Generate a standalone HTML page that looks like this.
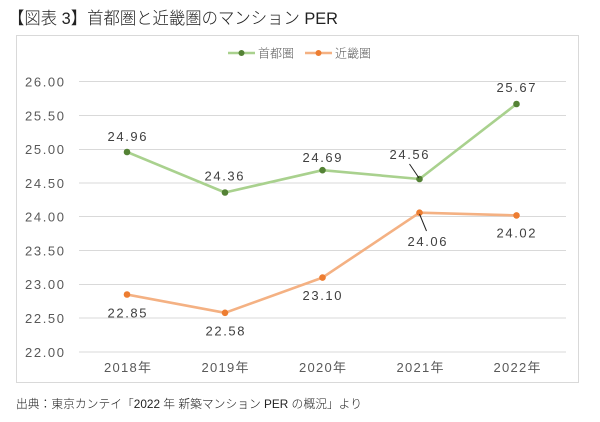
<!DOCTYPE html>
<html><head><meta charset="utf-8"><style>
html,body{margin:0;padding:0;background:#fff;}
svg{display:block;}
</style></head><body>
<svg width="600" height="422" viewBox="0 0 600 422" xmlns="http://www.w3.org/2000/svg">
<rect x="0" y="0" width="600" height="422" fill="#fff"/>
<text x="8" y="24" font-family="'Liberation Sans','Noto Sans CJK JP',sans-serif" font-size="17" font-weight="300" fill="#222" textLength="330" lengthAdjust="spacingAndGlyphs">【図表 3】首都圏と近畿圏のマンション PER</text>
<rect x="16.5" y="35.5" width="562" height="347" fill="#fff" stroke="#d9d9d9" stroke-width="1"/>
<!-- legend -->
<line x1="228" y1="53" x2="255" y2="53" stroke="#a9d18e" stroke-width="2.5"/>
<circle cx="241.5" cy="53" r="3" fill="#548235"/>
<text x="258" y="57.5" font-family="'Liberation Sans','Noto Sans CJK JP',sans-serif" font-size="12" font-weight="300" fill="#595959">首都圏</text>
<line x1="305" y1="53" x2="332" y2="53" stroke="#f4b183" stroke-width="2.5"/>
<circle cx="318.5" cy="53" r="3" fill="#ed7d31"/>
<text x="335" y="57.5" font-family="'Liberation Sans','Noto Sans CJK JP',sans-serif" font-size="12" font-weight="300" fill="#595959">近畿圏</text>
<!-- grid -->
<g stroke="#d9d9d9" stroke-width="1">
<line x1="79" y1="81.5" x2="566" y2="81.5"/>
<line x1="79" y1="115.5" x2="566" y2="115.5"/>
<line x1="79" y1="149.5" x2="566" y2="149.5"/>
<line x1="79" y1="183" x2="566" y2="183"/>
<line x1="79" y1="216.5" x2="566" y2="216.5"/>
<line x1="79" y1="250.5" x2="566" y2="250.5"/>
<line x1="79" y1="284.5" x2="566" y2="284.5"/>
<line x1="79" y1="318" x2="566" y2="318"/>
<line x1="79" y1="352" x2="566" y2="352"/>
</g>
<g font-family="'Liberation Sans',sans-serif" font-size="13" fill="#595959">
<text x="25" y="86.5" textLength="39" lengthAdjust="spacing">26.00</text>
<text x="25" y="120.5" textLength="39" lengthAdjust="spacing">25.50</text>
<text x="25" y="154" textLength="39" lengthAdjust="spacing">25.00</text>
<text x="25" y="188" textLength="39" lengthAdjust="spacing">24.50</text>
<text x="25" y="221.5" textLength="39" lengthAdjust="spacing">24.00</text>
<text x="25" y="255.5" textLength="39" lengthAdjust="spacing">23.50</text>
<text x="25" y="289" textLength="39" lengthAdjust="spacing">23.00</text>
<text x="25" y="323" textLength="39" lengthAdjust="spacing">22.50</text>
<text x="25" y="357" textLength="39" lengthAdjust="spacing">22.00</text>
</g>
<g font-family="'Liberation Sans','Noto Sans CJK JP',sans-serif" font-size="13" fill="#595959">
<text x="104" y="372" textLength="47" lengthAdjust="spacing">2018年</text>
<text x="201.5" y="372" textLength="47" lengthAdjust="spacing">2019年</text>
<text x="299" y="372" textLength="47" lengthAdjust="spacing">2020年</text>
<text x="396.5" y="372" textLength="47" lengthAdjust="spacing">2021年</text>
<text x="493.5" y="372" textLength="47" lengthAdjust="spacing">2022年</text>
</g>
<!-- series -->
<polyline points="127,152 225,192.5 322.5,170.2 419.5,179 516.5,104" fill="none" stroke="#a9d18e" stroke-width="2.6" stroke-linejoin="round"/>
<polyline points="127,294.5 225,312.8 322.5,277.6 419.5,212.7 516.5,215.4" fill="none" stroke="#f4b183" stroke-width="2.6" stroke-linejoin="round"/>
<g fill="#548235">
<circle cx="127" cy="152" r="3.3"/>
<circle cx="225" cy="192.5" r="3.3"/>
<circle cx="322.5" cy="170.2" r="3.3"/>
<circle cx="419.5" cy="179" r="3.3"/>
<circle cx="516.5" cy="104" r="3.3"/>
</g>
<g fill="#ed7d31">
<circle cx="127" cy="294.5" r="3.3"/>
<circle cx="225" cy="312.8" r="3.3"/>
<circle cx="322.5" cy="277.6" r="3.3"/>
<circle cx="419.5" cy="212.7" r="3.3"/>
<circle cx="516.5" cy="215.4" r="3.3"/>
</g>
<!-- leader lines -->
<line x1="409.5" y1="164" x2="419" y2="178" stroke="#222" stroke-width="1"/>
<line x1="419.5" y1="214" x2="426.5" y2="231" stroke="#222" stroke-width="1"/>
<!-- data labels -->
<g font-family="'Liberation Sans',sans-serif" font-size="13" fill="#404040">
<text x="107.5" y="141" textLength="39" lengthAdjust="spacing">24.96</text>
<text x="204.5" y="180.5" textLength="39" lengthAdjust="spacing">24.36</text>
<text x="302.5" y="162" textLength="39" lengthAdjust="spacing">24.69</text>
<text x="389.5" y="159" textLength="39" lengthAdjust="spacing">24.56</text>
<text x="496.5" y="92" textLength="39" lengthAdjust="spacing">25.67</text>
<text x="107.5" y="317.5" textLength="39" lengthAdjust="spacing">22.85</text>
<text x="205.5" y="335.5" textLength="39" lengthAdjust="spacing">22.58</text>
<text x="302.5" y="300" textLength="39" lengthAdjust="spacing">23.10</text>
<text x="407.5" y="246" textLength="39" lengthAdjust="spacing">24.06</text>
<text x="496.5" y="237.5" textLength="39" lengthAdjust="spacing">24.02</text>
</g>
<text x="16" y="408" font-family="'Liberation Sans','Noto Sans CJK JP',sans-serif" font-size="12" font-weight="300" fill="#222" textLength="346" lengthAdjust="spacingAndGlyphs">出典：東京カンテイ「2022 年 新築マンション PER の概況」より</text>
</svg>
</body></html>
